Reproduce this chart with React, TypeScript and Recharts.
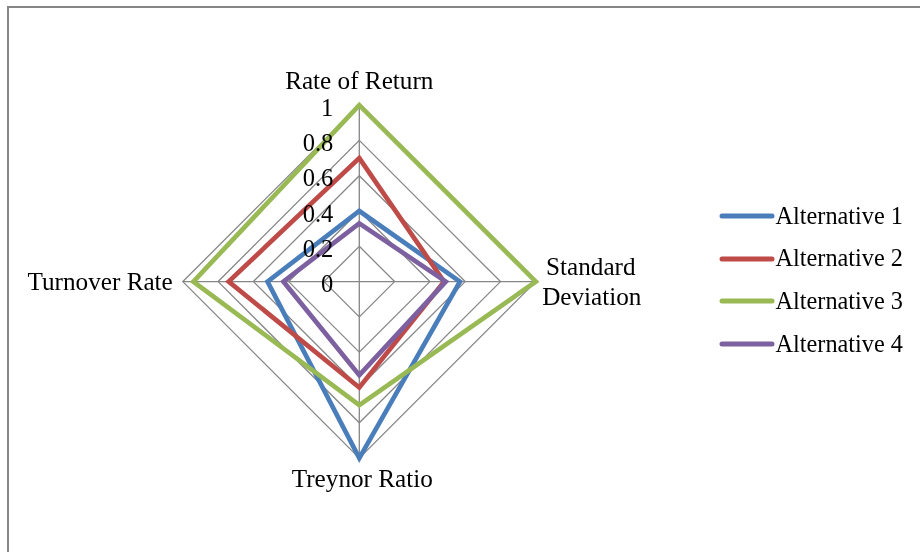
import React from 'react';
import { RadarChart, Radar, PolarGrid, PolarAngleAxis, PolarRadiusAxis, Legend } from 'recharts';

const metrics = ['Rate of Return', 'Standard Deviation', 'Treynor Ratio', 'Turnover Rate'];
const alternative1 = [0.4, 0.57, 1.0, 0.52];
const alternative2 = [0.7, 0.48, 0.6, 0.74];
const alternative3 = [1.0, 1.0, 0.7, 0.94];
const alternative4 = [0.33, 0.49, 0.53, 0.43];
const radiusTicks = [0, 0.2, 0.4, 0.6, 0.8, 1];
const seriesNames = ['Alternative 1', 'Alternative 2', 'Alternative 3', 'Alternative 4'];
const seriesColors = ['#4A7EBB', '#BE4B48', '#98B954', '#7D60A0'];

const chartData = metrics.map((metric, i) => ({
    metric,
    a1: alternative1[i],
    a2: alternative2[i],
    a3: alternative3[i],
    a4: alternative4[i],
}));

const FONT = "'Liberation Serif', 'DejaVu Serif', serif";

const AngleTick = (props: any) => {
    const { x, y, payload, index } = props;
    const common = { fontFamily: FONT, fontSize: 25.2, fill: '#000' };
    if (index === 0) {
        return <text x={x} y={y - 17} textAnchor="middle" dominantBaseline="central" style={common}>{payload.value}</text>;
    }
    if (index === 2) {
        return <text x={x + 3} y={y + 12} textAnchor="middle" dominantBaseline="central" style={common}>{payload.value}</text>;
    }
    if (index === 1) {
        const [first, second] = String(payload.value).split(' ');
        return (
            <text x={x + 2} y={y} textAnchor="start" style={common}>
                <tspan x={x + 47} y={y - 15} textAnchor="middle" dominantBaseline="central">{first}</tspan>
                <tspan x={x + 48} y={y + 15} textAnchor="middle" dominantBaseline="central">{second}</tspan>
            </text>
        );
    }
    return <text x={x - 2} y={y} textAnchor="end" dominantBaseline="central" style={common}>{payload.value}</text>;
};

const RadiusTick = (props: any) => {
    const { x, y, payload } = props;
    return (
        <text x={x - 26} y={y + 2} textAnchor="end" dominantBaseline="central" style={{ fontFamily: FONT, fontSize: 24.5, fill: '#000' }}>
            {String(Number(Number(payload.value).toFixed(1)))}
        </text>
    );
};

const renderLegend = () => (
    <div style={{ fontFamily: FONT, fontSize: 24.3, color: '#000' }}>
        {seriesNames.map((name, i) => (
            <div key={name} style={{ display: 'flex', alignItems: 'center', height: 42.7 }}>
                <svg width={56} height={8} style={{ display: 'block' }}>
                    <line x1={3} y1={4} x2={53} y2={4} stroke={seriesColors[i]} strokeWidth={5} strokeLinecap="round" />
                </svg>
                <span style={{ marginLeft: 1, whiteSpace: 'nowrap', lineHeight: 1 }}>{name}</span>
            </div>
        ))}
    </div>
);

export default function App() {
    return (
        <div style={{ position: 'relative', width: 904, height: 536 }}>
            <div style={{ position: 'fixed', left: 7, top: 6, width: 920, height: 560, borderTop: '2px solid #868686', borderLeft: '2px solid #868686', pointerEvents: 'none' }} />
            <RadarChart width={904} height={536} data={chartData} cx={351.3} cy={273.6} outerRadius={176.5} margin={{ top: 0, right: 0, bottom: 0, left: 0 }}>
                <PolarGrid gridType="polygon" stroke="#868686" strokeWidth={1.3} />
                <PolarAngleAxis dataKey="metric" tick={<AngleTick />} tickLine={false} axisLine={false} />
                <PolarRadiusAxis type="number" angle={90} domain={[0, 1]} ticks={radiusTicks as any} tickCount={6} axisLine={false} tickLine={false} tick={<RadiusTick />} />
                <Radar name={seriesNames[0]} dataKey="a1" stroke={seriesColors[0]} strokeWidth={4.7} fill="none" fillOpacity={0} isAnimationActive={false} />
                <Radar name={seriesNames[1]} dataKey="a2" stroke={seriesColors[1]} strokeWidth={4.7} fill="none" fillOpacity={0} isAnimationActive={false} />
                <Radar name={seriesNames[2]} dataKey="a3" stroke={seriesColors[2]} strokeWidth={4.7} fill="none" fillOpacity={0} isAnimationActive={false} />
                <Radar name={seriesNames[3]} dataKey="a4" stroke={seriesColors[3]} strokeWidth={4.7} fill="none" fillOpacity={0} isAnimationActive={false} />
                <Legend content={renderLegend} wrapperStyle={{ position: 'absolute', left: 710.5, top: 186.6, width: 200 }} />
            </RadarChart>
        </div>
    );
}
